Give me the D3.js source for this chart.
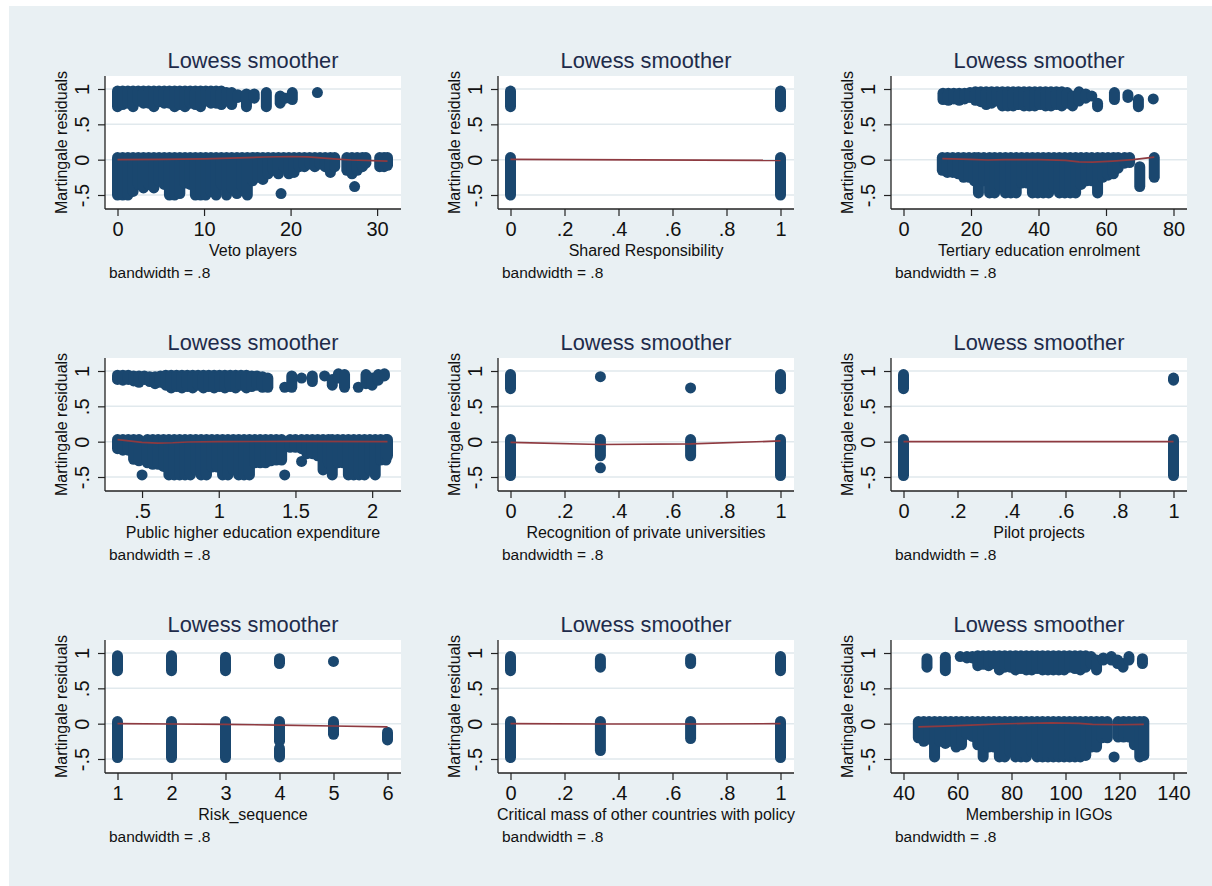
<!DOCTYPE html>
<html>
<head>
<meta charset="utf-8">
<script src="https://cdn.jsdelivr.net/npm/d3@7"></script>
<style>
  html, body { margin: 0; padding: 0; background: #fff; }
  text { font-family: "Liberation Sans", Arial, Helvetica, sans-serif; }
</style>
</head>
<body>
<script>
// Martingale residuals against each covariate, with a lowess smoother (bandwidth .8).
// Residual bands are stored per covariate value as [x, lowest residual, highest residual].

const yTicks = [-0.5, 0, 0.5, 1];
const xTitles = [
  "Veto players", "Shared Responsibility", "Tertiary education enrolment",
  "Public higher education expenditure", "Recognition of private universities", "Pilot projects",
  "Risk_sequence", "Critical mass of other countries with policy", "Membership in IGOs"
];
const xTicksVeto = [0, 10, 20, 30];
const xTicksUnit = [0, 0.2, 0.4, 0.6, 0.8, 1];
const xTicksTertiary = [0, 20, 40, 60, 80];
const xTicksExpend = [0.5, 1, 1.5, 2];
const xTicksRisk = [1, 2, 3, 4, 5, 6];
const xTicksIGO = [40, 60, 80, 100, 120, 140];

// Veto players
const vetoHigh = [[0,0.75,0.97],[0.6,0.78,0.97],[1.2,0.8,0.97],[1.8,0.75,0.97],[2.4,0.83,0.97],[3,0.8,0.97],
  [3.6,0.8,0.97],[4.2,0.75,0.97],[4.8,0.82,0.97],[5.4,0.8,0.97],[6,0.8,0.97],[6.6,0.75,0.97],[7.2,0.78,0.97],
  [7.8,0.75,0.97],[8.4,0.8,0.97],[9,0.78,0.97],[9.6,0.75,0.97],[10.2,0.83,0.97],[10.8,0.8,0.97],[11.4,0.8,0.97],
  [12,0.78,0.97],[12.6,0.83,0.95],[13.2,0.78,0.95],[13.9,0.88,0.92],[14.9,0.75,0.93],[15.8,0.87,0.93],
  [17.2,0.75,0.95],[18.8,0.8,0.9],[19.4,0.87,0.87],[20.2,0.85,0.95],[23.1,0.95,0.95]];
const vetoLow = [[0,-0.5,0.03],[0.6,-0.5,0.03],[1.2,-0.5,0.03],[1.8,-0.45,0.03],[2.4,-0.35,0.03],[3,-0.4,0.03],
  [3.6,-0.35,0.03],[4.2,-0.4,0.03],[4.8,-0.3,0.03],[5.4,-0.35,0.03],[6,-0.5,0.03],[6.6,-0.5,0.03],[7.2,-0.48,0.03],
  [7.8,-0.33,0.03],[8.4,-0.35,0.03],[9,-0.5,0.03],[9.6,-0.5,0.03],[10.2,-0.5,0.03],[10.8,-0.45,0.03],[11.4,-0.5,0.03],
  [12,-0.35,0.03],[12.6,-0.5,0.03],[13.2,-0.4,0.03],[13.8,-0.48,0.03],[14.4,-0.38,0.03],[15,-0.5,0.03],
  [15.6,-0.3,0.03],[16.2,-0.25,0.03],[16.8,-0.28,0.03],[17.4,-0.2,0.03],[18,-0.15,0.03],[18.6,-0.2,0.03],
  [18.9,-0.48,-0.48],[19.2,-0.1,0.03],[19.8,-0.2,0.03],[20.4,-0.18,0.03],[21,-0.1,0.03],[21.6,-0.1,0.03],
  [22.2,-0.06,0.03],[22.8,-0.1,0.03],[23.4,-0.06,0.03],[24,-0.1,0.03],[24.6,-0.18,0.03],[25.1,-0.1,0.03],
  [26.5,-0.15,0.03],[27.1,-0.2,0.03],[27.4,-0.38,-0.38],[27.7,-0.15,0.03],[28.3,-0.1,0.03],[28.7,-0.05,0.03],
  [30.3,-0.1,0.03],[30.8,-0.1,0.03],[31.2,-0.08,0.03]];
const vetoLowess = [[0,0],[5,0.005],[10,0.012],[14,0.025],[17,0.038],[20,0.045],[22,0.04],[25,0.01],[27,-0.005],[31.2,-0.02]];

// Shared Responsibility
const sharedHigh = [[0,0.75,0.97],[1,0.75,0.97]];
const sharedLow = [[0,-0.5,0.03],[1,-0.5,0.03]];
const sharedLowess = [[0,0.005],[1,-0.01]];

// Tertiary education enrolment
const tertiaryHigh = [[11.7,0.85,0.94],[13.3,0.84,0.94],[14.9,0.86,0.94],[16.5,0.84,0.94],[18.1,0.86,0.94],
  [19.7,0.88,0.95],[21.3,0.84,0.96],[22.9,0.82,0.96],[24.5,0.78,0.96],[26.1,0.8,0.96],[27.7,0.83,0.96],
  [29.3,0.76,0.96],[30.9,0.76,0.96],[32.5,0.76,0.96],[34.1,0.78,0.96],[35.7,0.76,0.96],[37.3,0.76,0.96],
  [38.9,0.76,0.96],[40.5,0.78,0.96],[42.1,0.76,0.96],[43.7,0.76,0.96],[45.3,0.78,0.96],[46.9,0.76,0.96],
  [48.5,0.8,0.95],[50.1,0.76,0.9],[52,0.83,0.96],[54,0.87,0.93],[55.8,0.9,0.9],[57.5,0.75,0.8],
  [62.5,0.85,0.95],[66.5,0.88,0.92],[69.6,0.75,0.85],[74,0.86,0.86]];
const tertiaryLow = [[11.5,-0.15,0.03],[13,-0.18,0.03],[14.6,-0.18,0.03],[16.2,-0.2,0.03],[17.8,-0.25,0.03],
  [19.4,-0.25,0.03],[21,-0.3,0.03],[22.2,-0.47,0.03],[23.8,-0.3,0.03],[25.5,-0.47,0.03],[27,-0.47,0.03],
  [28.6,-0.38,0.03],[30.2,-0.47,0.03],[31.8,-0.47,0.03],[33.4,-0.47,0.03],[35,-0.33,0.03],[36.6,-0.33,0.03],
  [38.2,-0.47,0.03],[39.8,-0.47,0.03],[41.4,-0.47,0.03],[43,-0.47,0.03],[44.6,-0.38,0.03],[46.2,-0.47,0.03],
  [47.8,-0.47,0.03],[49.4,-0.47,0.03],[51,-0.47,0.03],[52.6,-0.35,0.03],[54.2,-0.3,0.03],[55.8,-0.3,0.03],
  [57.5,-0.47,0.03],[59,-0.25,0.03],[60.6,-0.22,0.03],[62.2,-0.2,0.03],[63.6,-0.12,0.03],[65.5,-0.05,0.03],
  [67,-0.04,0.03],[70,-0.38,-0.1],[74.3,-0.25,0.03]];
const tertiaryLowess = [[11.5,0.015],[20,0.005],[25,-0.005],[30,0],[40,0],[48,-0.01],[52,-0.03],[56,-0.035],[62,-0.02],[68,0],[74.3,0.035]];

// Public higher education expenditure
const expendHigh = [[0.34,0.88,0.94],[0.375,0.87,0.94],[0.41,0.88,0.94],[0.445,0.86,0.93],[0.48,0.84,0.93],
  [0.515,0.88,0.93],[0.55,0.85,0.92],[0.585,0.82,0.92],[0.62,0.84,0.93],[0.655,0.8,0.94],[0.69,0.76,0.94],
  [0.725,0.78,0.94],[0.76,0.76,0.94],[0.795,0.78,0.94],[0.83,0.76,0.94],[0.865,0.8,0.94],[0.9,0.76,0.94],
  [0.935,0.78,0.94],[0.97,0.76,0.94],[1.005,0.78,0.94],[1.04,0.76,0.94],[1.075,0.78,0.94],[1.11,0.76,0.94],
  [1.145,0.8,0.94],[1.18,0.76,0.94],[1.215,0.78,0.93],[1.25,0.8,0.93],[1.285,0.77,0.92],[1.32,0.77,0.9],
  [1.43,0.77,0.77],[1.476,0.77,0.93],[1.54,0.9,0.9],[1.61,0.85,0.93],[1.69,0.93,0.93],[1.74,0.8,0.88],
  [1.78,0.9,0.96],[1.82,0.77,0.95],[1.91,0.77,0.77],[1.96,0.82,0.95],[2.0,0.8,0.9],[2.04,0.87,0.95],[2.08,0.93,0.96]];
const expendLow = [[0.34,-0.1,0.03],[0.375,-0.12,0.03],[0.41,-0.12,0.03],[0.445,-0.25,0.03],[0.48,-0.27,0.03],
  [0.5,-0.47,-0.47],[0.535,-0.3,0.03],[0.57,-0.32,0.03],[0.605,-0.32,0.03],[0.64,-0.35,0.03],[0.675,-0.47,0.03],
  [0.71,-0.47,0.03],[0.745,-0.47,0.03],[0.78,-0.47,0.03],[0.815,-0.47,0.03],[0.85,-0.4,0.03],[0.885,-0.47,0.03],
  [0.92,-0.47,0.03],[0.955,-0.36,0.03],[0.99,-0.36,0.03],[1.025,-0.47,0.03],[1.06,-0.47,0.03],[1.095,-0.4,0.03],
  [1.13,-0.47,0.03],[1.165,-0.47,0.03],[1.2,-0.47,0.03],[1.235,-0.3,0.03],[1.27,-0.3,0.03],[1.305,-0.3,0.03],
  [1.34,-0.27,0.03],[1.375,-0.26,0.03],[1.41,-0.26,0.03],[1.43,-0.47,-0.47],[1.465,-0.08,0.03],[1.5,-0.08,0.03],
  [1.54,-0.28,-0.28],[1.54,-0.1,0.03],[1.575,-0.17,0.03],[1.61,-0.17,0.03],[1.645,-0.2,0.03],[1.68,-0.4,0.03],
  [1.715,-0.3,0.03],[1.74,-0.47,0.03],[1.775,-0.3,0.03],[1.81,-0.3,0.03],[1.845,-0.47,0.03],[1.88,-0.47,0.03],
  [1.915,-0.47,0.03],[1.95,-0.47,0.03],[1.985,-0.4,0.03],[2.02,-0.47,0.03],[2.055,-0.26,0.03],[2.09,-0.26,0.03],
  [2.1,-0.2,0.03]];
const expendLowess = [[0.34,0.03],[0.4,0.015],[0.5,-0.01],[0.6,-0.02],[0.7,-0.015],[0.8,-0.005],[1.0,0],[1.5,0.005],[2.1,0]];

// Recognition of private universities
const privateHigh = [[0,0.75,0.95],[0.333,0.92,0.92],[0.667,0.76,0.76],[1,0.75,0.95]];
const privateLow = [[0,-0.48,0.03],[0.333,-0.2,0.03],[0.333,-0.37,-0.37],[0.667,-0.2,0.03],[1,-0.48,0.03]];
const privateLowess = [[0,-0.01],[0.333,-0.04],[0.667,-0.03],[1,0.01]];

// Pilot projects
const pilotHigh = [[0,0.75,0.95],[1,0.87,0.9]];
const pilotLow = [[0,-0.48,0.03],[1,-0.48,0.03]];
const pilotLowess = [[0,0],[1,0]];

// Risk_sequence
const riskHigh = [[1,0.75,0.96],[2,0.75,0.96],[3,0.75,0.94],[4,0.85,0.92],[5,0.88,0.88]];
const riskLow = [[1,-0.48,0.03],[2,-0.48,0.03],[3,-0.48,0.03],[4,-0.25,0.03],[4,-0.47,-0.35],[5,-0.15,0.03],[6,-0.23,-0.12]];
const riskLowess = [[1,0],[2,-0.005],[3,-0.01],[4,-0.02],[5,-0.033],[6,-0.045]];

// Critical mass of other countries with policy
const massHigh = [[0,0.75,0.95],[0.333,0.8,0.92],[0.667,0.85,0.92],[1,0.75,0.95]];
const massLow = [[0,-0.48,0.03],[0.333,-0.38,0.03],[0.667,-0.21,0.03],[1,-0.48,0.03]];
const massLowess = [[0,0],[0.333,-0.005],[0.667,-0.005],[1,0]];

// Membership in IGOs
const igoHigh = [[48.7,0.8,0.92],[55.5,0.75,0.94],[61,0.95,0.95],[63.5,0.93,0.95],[65.5,0.93,0.95],
  [67.5,0.82,0.96],[69.5,0.84,0.96],[71.5,0.82,0.96],[73.5,0.85,0.96],[75.5,0.76,0.96],[77.5,0.8,0.96],
  [79.5,0.8,0.96],[81.5,0.76,0.96],[83.5,0.78,0.96],[85.5,0.76,0.96],[87.5,0.76,0.96],[89.5,0.78,0.96],
  [91.5,0.76,0.96],[93.5,0.76,0.96],[95.5,0.76,0.96],[97.5,0.76,0.96],[99.5,0.76,0.96],[101.5,0.8,0.96],
  [103.5,0.78,0.96],[105.5,0.76,0.96],[107.5,0.8,0.96],[109.5,0.85,0.95],[111.5,0.76,0.9],[114,0.9,0.93],
  [117,0.9,0.95],[119.3,0.85,0.9],[121.3,0.8,0.85],[123.5,0.9,0.95],[128.5,0.85,0.92]];
const igoLow = [[45.5,-0.2,0.03],[47.5,-0.25,0.03],[49.5,-0.22,0.03],[51.5,-0.47,0.03],[53.5,-0.25,0.03],
  [55.5,-0.28,0.03],[57.5,-0.25,0.03],[59.5,-0.33,0.03],[61.5,-0.3,0.03],[63.5,-0.15,0.03],[65.5,-0.18,0.03],
  [67.5,-0.3,0.03],[69.5,-0.47,0.03],[71.5,-0.33,0.03],[73.5,-0.33,0.03],[75.5,-0.47,0.03],[77.5,-0.47,0.03],
  [79.5,-0.4,0.03],[81.5,-0.47,0.03],[83.5,-0.47,0.03],[85.5,-0.47,0.03],[87.5,-0.4,0.03],[89.5,-0.47,0.03],
  [91.5,-0.47,0.03],[93.5,-0.47,0.03],[95.5,-0.47,0.03],[97.5,-0.47,0.03],[99.5,-0.47,0.03],[101.5,-0.47,0.03],
  [103.5,-0.47,0.03],[105.5,-0.47,0.03],[107.5,-0.45,0.03],[109.5,-0.33,0.03],[111.5,-0.33,0.03],
  [113.5,-0.2,0.03],[115.5,-0.2,0.03],[118,-0.47,-0.47],[119.5,-0.19,0.03],[121.5,-0.19,0.03],[123.5,-0.19,0.03],
  [125.5,-0.3,0.03],[127.5,-0.47,0.03],[129,-0.45,0.03]];
const igoLowess = [[45.5,-0.045],[55,-0.035],[65,-0.02],[75,-0.005],[85,0.005],[95,0.01],[105,0.005],[110,-0.01],[120,-0.015],[129,-0.01]];

const panels = [
  { bands: [vetoHigh, vetoLow], smooth: vetoLowess, ticks: xTicksVeto },
  { bands: [sharedHigh, sharedLow], smooth: sharedLowess, ticks: xTicksUnit },
  { bands: [tertiaryHigh, tertiaryLow], smooth: tertiaryLowess, ticks: xTicksTertiary },
  { bands: [expendHigh, expendLow], smooth: expendLowess, ticks: xTicksExpend },
  { bands: [privateHigh, privateLow], smooth: privateLowess, ticks: xTicksUnit },
  { bands: [pilotHigh, pilotLow], smooth: pilotLowess, ticks: xTicksUnit },
  { bands: [riskHigh, riskLow], smooth: riskLowess, ticks: xTicksRisk },
  { bands: [massHigh, massLow], smooth: massLowess, ticks: xTicksUnit },
  { bands: [igoHigh, igoLow], smooth: igoLowess, ticks: xTicksIGO }
].map((p, i) => ({ ...p, xTitle: xTitles[i] }));

// Stata-style numbers: drop the leading zero
const fmt = d => String(+d.toFixed(4)).replace(/^(-?)0\./, "$1.");

const W = 1212, H = 886;
const svg = d3.select("body").append("svg").attr("width", W).attr("height", H);
svg.append("rect").attr("width", W).attr("height", H).attr("fill", "#ffffff");
svg.append("rect").attr("x", 9).attr("y", 6).attr("width", W - 9).attr("height", H - 6).attr("fill", "#E9F0F3");

const colLeft = [105, 498, 891];
const rowTop = [76, 358, 640];
const plotW = 296, plotH = 133;
const R = 5.5;
const navy = "#1A476F", maroon = "#8E3A40";

panels.forEach((p, i) => {
  const L = colLeft[i % 3], T = rowTop[Math.floor(i / 3)];
  const g = svg.append("g").attr("transform", `translate(${L},${T})`);

  const xs = p.bands.flat().map(d => d[0]);
  const dom = [Math.min(d3.min(xs), p.ticks[0]), Math.max(d3.max(xs), p.ticks[p.ticks.length - 1])];
  const x = d3.scaleLinear().domain(dom).range([12.5, 282.5]);
  const y = d3.scaleLinear().domain([-0.5, 1]).range([119, 13]);

  // plot region
  g.append("rect").attr("width", plotW).attr("height", plotH).attr("fill", "#ffffff");

  // horizontal grid
  g.append("g").selectAll("line").data(yTicks).join("line")
    .attr("x1", 0).attr("x2", plotW)
    .attr("y1", d => y(d)).attr("y2", d => y(d))
    .attr("stroke", "#E1E9ED").attr("stroke-width", 1.5);

  // residual markers: each record is a stack of overlapping circles at one covariate value
  g.append("g").selectAll("rect").data(p.bands.flat()).join("rect")
    .attr("x", d => x(d[0]) - R)
    .attr("y", d => y(d[2]) - R)
    .attr("width", 2 * R)
    .attr("height", d => y(d[1]) - y(d[2]) + 2 * R)
    .attr("rx", R).attr("ry", R)
    .attr("fill", navy);

  // lowess smoother
  g.append("path").datum(p.smooth)
    .attr("d", d3.line().x(d => x(d[0])).y(d => y(d[1])))
    .attr("fill", "none").attr("stroke", maroon).attr("stroke-width", 1.7);

  // x axis
  const xa = g.append("g").attr("transform", `translate(0,${plotH})`)
    .call(d3.axisBottom(x).tickValues(p.ticks).tickFormat(fmt).tickSize(7));
  xa.select(".domain").remove();
  xa.selectAll(".tick line").attr("stroke", "#222").attr("stroke-width", 1.2);
  xa.selectAll(".tick text").attr("y", 26.5).attr("dy", null)
    .attr("font-size", 20).attr("fill", "#111");
  g.append("line").attr("x1", 0).attr("x2", plotW).attr("y1", plotH).attr("y2", plotH)
    .attr("stroke", "#222").attr("stroke-width", 1.3);

  // y axis
  const ya = g.append("g").call(d3.axisLeft(y).tickValues(yTicks).tickFormat(fmt).tickSize(7));
  ya.select(".domain").remove();
  ya.selectAll(".tick line").attr("stroke", "#222").attr("stroke-width", 1.2);
  ya.selectAll(".tick text").attr("x", null).attr("dy", null)
    .attr("text-anchor", "middle").attr("transform", "translate(-16,0) rotate(-90)")
    .attr("font-size", 20).attr("fill", "#111");
  g.append("line").attr("x1", 0).attr("x2", 0).attr("y1", 0).attr("y2", plotH)
    .attr("stroke", "#222").attr("stroke-width", 1.3);

  // titles and notes
  g.append("text").attr("x", plotW / 2).attr("y", -8).attr("text-anchor", "middle")
    .attr("font-size", 21.8).attr("fill", "#1E2B4A").text("Lowess smoother");
  g.append("text").attr("transform", `translate(-38,${plotH / 2}) rotate(-90)`)
    .attr("text-anchor", "middle").attr("font-size", 16).attr("fill", "#111")
    .text("Martingale residuals");
  g.append("text").attr("x", plotW / 2).attr("y", plotH + 47).attr("text-anchor", "middle")
    .attr("font-size", 16).attr("fill", "#111").text(p.xTitle);
  g.append("text").attr("x", 4).attr("y", plotH + 69)
    .attr("font-size", 15.5).attr("fill", "#111").text("bandwidth = .8");
});
</script>
</body>
</html>
